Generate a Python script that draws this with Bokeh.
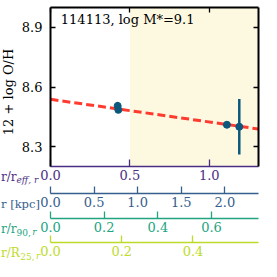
import math
from bokeh.plotting import figure
from bokeh.models import (Range1d, LinearAxis, FixedTicker, PrintfTickFormatter,
                          BoxAnnotation, Label, ColumnDataSource)
from bokeh.embed import file_html
from bokeh.resources import INLINE

# ---- data ----
r_reff = [0.423, 0.427, 1.111, 1.189]
oh = [8.505, 8.485, 8.41, 8.40]
oh_err = [0.02, 0.015, 0.015, 0.14]
fit_intercept = 8.538
fit_slope = -0.114
shade_start = 0.5
x_reff_max = 1.31
x_kpc_max = 2.386
x_r90_max = 0.775
x_r25_max = 0.584
y_min, y_max = 8.2, 9.0
y_ticks = [8.3, 8.6, 8.9]
reff_ticks = [0.0, 0.5, 1.0]
kpc_ticks = [0.0, 0.5, 1.0, 1.5, 2.0]
r90_ticks = [0.0, 0.2, 0.4, 0.6]
r25_ticks = [0.0, 0.2, 0.4]
title_text = "114113, log M*=9.1"
y_label = "12 + log O/H"

FONT = "DejaVu Serif"
C_REFF = "#4b2e83"
C_KPC = "#35608d"
C_R90 = "#22a47f"
C_R25 = "#bddc2a"
C_PT = "#0b587c"
C_FIT = "#ff3b2f"
C_SHADE = "#fdf8e0"

# ---- layout (canvas px) ----
W, H = 261, 261
PL, PR, PT, PB = 50, 258, 7, 166          # main plot box inside the canvas
AX_LINES = [166, 193, 218, 242]           # canvas y of the four bottom axis lines
LBL_DY = 10.5                             # tick-label centre below each axis line

ppu_x = (PR - PL) / x_reff_max
ppu_y = (PB - PT) / (y_max - y_min)

def xr(vmax):
    ppu = (PR - PL) / vmax
    return Range1d(-PL / ppu, vmax + (W - PR) / ppu)

def px2x(px):
    return (px - PL) / ppu_x

def py2y(py):
    return y_max - (py - PT) / ppu_y

p = figure(width=W, height=H, x_range=xr(x_reff_max),
           y_range=Range1d(py2y(H), py2y(0)),
           output_backend="svg", toolbar_location=None,
           x_axis_location=None, y_axis_location=None,
           min_border=0, min_border_left=0, min_border_right=0,
           min_border_top=0, min_border_bottom=0)
p.outline_line_color = None
p.grid.visible = False
p.background_fill_color = "white"
p.border_fill_color = "white"
p.extra_x_ranges = {"kpc": xr(x_kpc_max), "r90": xr(x_r90_max), "r25": xr(x_r25_max)}

# shaded outer region
p.add_layout(BoxAnnotation(left=shade_start, right=x_reff_max, bottom=y_min, top=y_max,
                           fill_color=C_SHADE, fill_alpha=1.0, line_color=None,
                           level="underlay"))

# gradient fit
fit_x = [0.0, x_reff_max]
fit_y = [fit_intercept + fit_slope * v for v in fit_x]
p.line(fit_x, fit_y, line_color=C_FIT, line_width=3, line_dash="8 4")

src = ColumnDataSource(dict(x=r_reff, y=oh,
                            lo=[a - b for a, b in zip(oh, oh_err)],
                            hi=[a + b for a, b in zip(oh, oh_err)]))
p.segment(x0="x", y0="lo", x1="x", y1="hi", source=src, line_color=C_PT, line_width=2.5)
p.scatter(x="x", y="y", source=src, size=7, fill_color=C_PT, line_color=C_PT)

def style_axis(ax, color, tick_in, labels=True, standoff=3, lw=1.6):
    ax.axis_line_color = color
    ax.axis_line_width = lw
    ax.major_tick_line_color = color
    ax.major_tick_line_width = 1.3
    ax.major_tick_in = tick_in
    ax.major_tick_out = 0
    ax.minor_tick_line_color = None
    ax.major_label_text_font = FONT
    ax.major_label_text_font_size = "13px"
    ax.major_label_standoff = standoff
    ax.major_label_text_color = color if labels else None

# left / right / top edges of the plot box
ya = LinearAxis(ticker=FixedTicker(ticks=y_ticks), formatter=PrintfTickFormatter(format="%.1f"),
                fixed_location=0.0, bounds=(y_min, y_max))
style_axis(ya, "black", 5, standoff=8, lw=2)
p.add_layout(ya, "left")

ra = LinearAxis(ticker=FixedTicker(ticks=y_ticks), fixed_location=x_reff_max,
                bounds=(y_min, y_max))
style_axis(ra, "black", 5, labels=False, lw=2)
p.add_layout(ra, "right")

ta = LinearAxis(ticker=FixedTicker(ticks=reff_ticks), fixed_location=y_max,
                bounds=(0.0, x_reff_max))
style_axis(ta, "black", 5, labels=False, lw=2)
p.add_layout(ta, "above")

# the four radial axes below the plot
axes_spec = [
    ("default", reff_ticks, C_REFF, x_reff_max),
    ("kpc", kpc_ticks, C_KPC, x_kpc_max),
    ("r90", r90_ticks, C_R90, x_r90_max),
    ("r25", r25_ticks, C_R25, x_r25_max),
]
for (name, ticks, col, vmax), ly in zip(axes_spec, AX_LINES):
    ax = LinearAxis(x_range_name=name, ticker=FixedTicker(ticks=ticks),
                    formatter=PrintfTickFormatter(format="%.1f"),
                    fixed_location=py2y(ly), bounds=(0.0, vmax))
    style_axis(ax, col, 7, standoff=3)
    p.add_layout(ax, "below")

# title inside the plot
p.add_layout(Label(x=0.065, y=8.94, text=title_text, text_font=FONT, text_font_size="13px",
                   text_color="black", text_baseline="middle", text_align="left"))

# y axis title
p.add_layout(Label(x=px2x(7.5), y=8.575, text=y_label, angle=math.pi / 2,
                   text_font=FONT, text_font_size="13px", text_color="black",
                   text_baseline="middle", text_align="center"))

# names of the radial axes, at the left of their tick labels
def name_label(parts, ly, color):
    xpx = 0.5
    for text, size, style, sub, w in parts:
        cy = ly + LBL_DY + (3 if sub else 0)
        p.add_layout(Label(x=px2x(xpx), y=py2y(cy), text=text, text_font=FONT,
                           text_font_size=f"{size}px", text_font_style=style,
                           text_color=color, text_baseline="middle", text_align="left"))
        xpx += w * size

name_label([("r/r", 12, "normal", False, 1.29), ("eff, r", 9, "italic", True, 2.45)],
           AX_LINES[0], C_REFF)
name_label([("r [kpc]", 11.5, "normal", False, 3.45)], AX_LINES[1], C_KPC)
name_label([("r/r", 12, "normal", False, 1.29), ("90,", 9, "normal", True, 1.75),
            ("r", 9, "italic", True, 0.5)], AX_LINES[2], C_R90)
name_label([("r/R", 12, "normal", False, 1.6), ("25,", 9, "normal", True, 1.75),
            ("r", 9, "italic", True, 0.5)], AX_LINES[3], C_R25)

open("out.html", "w").write(file_html(p, INLINE))
